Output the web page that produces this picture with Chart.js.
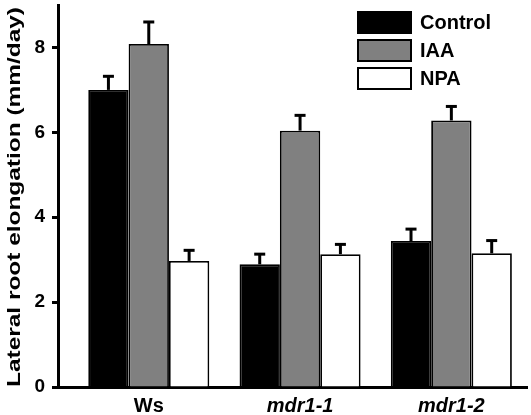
<!DOCTYPE html>
<html>
<head>
<meta charset="utf-8">
<script src="https://cdn.jsdelivr.net/npm/chart.js@4"></script>
<style>
  html, body { margin: 0; padding: 0; background: #fff; }
  #wrap { width: 531px; height: 415px; }
</style>
</head>
<body>
<div id="wrap"><canvas id="c" width="531" height="415"></canvas></div>
<script>
const categories = ['Ws', 'mdr1-1', 'mdr1-2'];
const seriesNames = ['Control', 'IAA', 'NPA'];
const controlValues = [7.0, 2.89, 3.44];
const iaaValues = [8.08, 6.04, 6.28];
const npaValues = [2.97, 3.13, 3.15];
const controlErrors = [0.32, 0.24, 0.28];
const iaaErrors = [0.52, 0.36, 0.33];
const npaErrors = [0.25, 0.23, 0.3];
const yTickValues = [0, 2, 4, 6, 8];
const yTitle = 'Lateral root elongation (mm/day)';

const colors = ['#000000', '#808080', '#ffffff'];
const FONT = 'Arial, "Liberation Sans", sans-serif';

function toPoints(vals) { return vals.map((v, i) => ({ x: i, y: v })); }

const allValues = [controlValues, iaaValues, npaValues];
const allErrors = [controlErrors, iaaErrors, npaErrors];

const datasets = seriesNames.map((name, k) => ({
  label: name,
  data: toPoints(allValues[k]),
  errors: allErrors[k],
  backgroundColor: colors[k],
  borderColor: '#000',
  borderWidth: 1.8,
  categoryPercentage: 0.8,
  barPercentage: 1.0
}));

const errorBarPlugin = {
  id: 'errorBars',
  afterDatasetsDraw(chart) {
    const ctx = chart.ctx;
    const yScale = chart.scales.y;
    ctx.save();
    ctx.strokeStyle = '#000';
    ctx.lineCap = 'butt';
    chart.data.datasets.forEach((ds, di) => {
      const meta = chart.getDatasetMeta(di);
      meta.data.forEach((bar, i) => {
        const v = ds.data[i].y;
        const e = ds.errors[i];
        const yTop = yScale.getPixelForValue(v);
        const yErr = yScale.getPixelForValue(v + e);
        ctx.lineWidth = 3;
        ctx.beginPath();
        ctx.moveTo(bar.x, yTop);
        ctx.lineTo(bar.x, yErr);
        ctx.stroke();
        ctx.beginPath();
        ctx.moveTo(bar.x - 5.5, yErr);
        ctx.lineTo(bar.x + 5.5, yErr);
        ctx.stroke();
      });
    });
    ctx.restore();
  }
};

const legendPlugin = {
  id: 'customLegend',
  afterDraw(chart) {
    const ctx = chart.ctx;
    ctx.save();
    const x0 = 358, w = 53, h = 21, y0 = 12, step = 28;
    chart.data.datasets.forEach((ds, k) => {
      const y = y0 + k * step;
      ctx.fillStyle = ds.backgroundColor;
      ctx.fillRect(x0, y, w, h);
      ctx.strokeStyle = '#000';
      ctx.lineWidth = 2;
      ctx.strokeRect(x0, y, w, h);
      ctx.fillStyle = '#000';
      ctx.font = 'bold 20px ' + FONT;
      ctx.textBaseline = 'middle';
      ctx.textAlign = 'left';
      ctx.fillText(ds.label, 420, y + h / 2 + 1);
    });
    ctx.restore();
  }
};

const yTitlePlugin = {
  id: 'yTitle',
  afterDraw(chart) {
    const ctx = chart.ctx;
    const area = chart.chartArea;
    ctx.save();
    ctx.font = 'bold 19px ' + FONT;
    const tw = ctx.measureText(yTitle).width;
    const targetLen = 380;
    const sx = targetLen / tw;
    ctx.translate(15, (area.top + area.bottom) / 2 + 1);
    ctx.rotate(-Math.PI / 2);
    ctx.scale(sx, 1);
    ctx.fillStyle = '#000';
    ctx.textAlign = 'center';
    ctx.textBaseline = 'middle';
    ctx.fillText(yTitle, 0, 0);
    ctx.restore();
  }
};

new Chart(document.getElementById('c'), {
  type: 'bar',
  data: { datasets },
  options: {
    responsive: false,
    animation: false,
    layout: { padding: { top: 5, right: 4, left: 0, bottom: 0 } },
    plugins: { legend: { display: false }, tooltip: { enabled: false } },
    scales: {
      x: {
        type: 'linear',
        min: -0.6,
        max: 2.5,
        offset: false,
        grid: { display: false },
        border: { display: true, color: '#000', width: 3 },
        afterBuildTicks(scale) { scale.ticks = categories.map((c, i) => ({ value: i })); },
        afterFit(scale) { scale.height = 28; scale.paddingLeft = 0; scale.paddingRight = 0; },
        ticks: {
          color: '#000',
          padding: -1,
          autoSkip: false,
          maxRotation: 0,
          callback: (v) => categories[v],
          font: (ctx) => ({ family: FONT, size: 20, weight: 'bold', style: ctx.index > 0 ? 'italic' : 'normal' })
        }
      },
      y: {
        min: 0,
        max: 9,
        grid: { display: true, drawOnChartArea: false, drawTicks: true, tickLength: 6, tickWidth: 3, tickColor: '#000', color: '#000' },
        border: { display: true, color: '#000', width: 3 },
        afterBuildTicks(scale) { scale.ticks = yTickValues.map(v => ({ value: v })); },
        afterFit(scale) { scale.width = 58; scale.paddingTop = 0; scale.paddingBottom = 0; },
        ticks: {
          color: '#000',
          padding: 7,
          font: { family: FONT, size: 19, weight: 'bold' }
        },
        title: { display: false }
      }
    }
  },
  plugins: [errorBarPlugin, legendPlugin, yTitlePlugin]
});
</script>
</body>
</html>
